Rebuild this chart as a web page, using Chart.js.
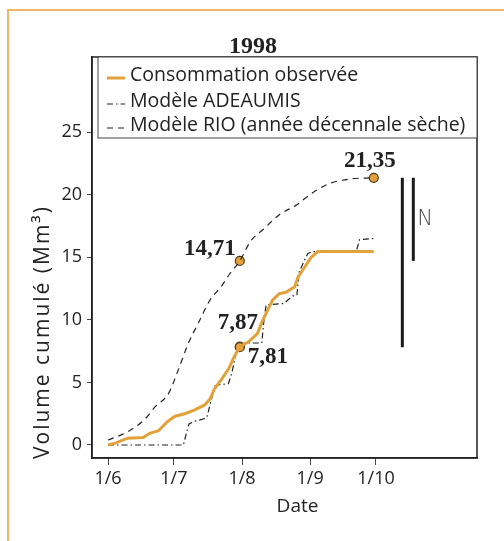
<!DOCTYPE html>
<html>
<head>
<meta charset="utf-8">
<script src="https://cdn.jsdelivr.net/npm/chart.js@4"></script>
<style>
html, body { margin: 0; padding: 0; background: #fff; }
</style>
</head>
<body>
<canvas id="myChart" width="504" height="541"></canvas>
<script>
// days counted from 1 June 1998
const tickDays = [0, 30, 61, 92, 122];
const tickLabels = ['1/6', '1/7', '1/8', '1/9', '1/10'];
const yTicks = [0, 5, 10, 15, 20, 25];

// Consommation observée
const obsDays = [0, 3, 9, 16, 19, 23, 27, 30.5, 35, 39.5, 44, 46.5, 48.5, 51.5, 55, 57, 60, 64, 68, 70.5, 73, 75, 78, 81, 85, 86.5, 89.5, 92.5, 95.5, 121];
const obsVals = [0, 0.13, 0.54, 0.6, 0.93, 1.14, 1.86, 2.3, 2.5, 2.8, 3.2, 3.7, 4.5, 5.2, 6.1, 6.9, 7.87, 8.25, 8.9, 10.0, 10.9, 11.6, 12.1, 12.2, 12.65, 13.4, 14.2, 15.0, 15.45, 15.45];

// Modèle ADEAUMIS
const adeDays = [0, 34.3, 36.5, 37, 39.5, 44.5, 45, 47, 48.5, 50, 54.8, 56.3, 58.5, 60, 62, 70, 71, 72, 80, 84, 86, 87, 89, 91, 93, 113, 114.5, 121];
const adeVals = [0, 0, 1.5, 1.7, 1.9, 2.13, 2.2, 3.6, 4.7, 4.8, 4.9, 5.7, 7.5, 7.81, 8.15, 8.15, 10.0, 11.2, 11.3, 11.9, 12.0, 13.8, 14.6, 15.3, 15.45, 15.45, 16.4, 16.5];

// Modèle RIO (année décennale sèche)
const rioDays = [0, 9, 17, 21.5, 27.5, 32, 36.5, 41, 46.5, 51.5, 55.5, 60, 65, 70.5, 78, 86, 93.5, 101, 110, 121];
const rioVals = [0.4, 1.06, 2.1, 3.06, 4.1, 6.0, 8.1, 9.7, 11.6, 12.65, 13.7, 14.71, 16.3, 17.2, 18.4, 19.2, 20.2, 20.9, 21.25, 21.35];

// marked values
const markDays = [60, 60, 60, 121];
const markVals = [14.71, 7.87, 7.81, 21.35];
const markLabels = ['14,71', '7,87', '7,81', '21,35'];

// difference bars
const barDays = [134, 139];
const barLow = [7.81, 14.71];
const barHigh = [21.35, 21.35];
const barText = ['', 'N'];

const orange = '#E3A13A';
const toXY = (xs, ys) => xs.map((x, i) => ({ x: x, y: ys[i] }));

const extras = {
    id: 'extras',
    beforeDraw(chart) {
        const c = chart.ctx;
        c.save();
        c.fillStyle = '#fff';
        c.fillRect(0, 0, chart.width, chart.height);
        c.strokeStyle = '#EDB865';
        c.lineWidth = 2;
        c.beginPath();
        c.moveTo(8, chart.height);
        c.lineTo(8, 10);
        c.lineTo(chart.width, 10);
        c.stroke();
        c.restore();
    },
    afterDraw(chart) {
        const c = chart.ctx, a = chart.chartArea;
        const xs = chart.scales.x, ys = chart.scales.y;
        c.save();
        c.strokeStyle = '#222';
        c.lineWidth = 1.5;
        c.strokeRect(a.left, a.top, a.right - a.left, a.bottom - a.top);

        // title
        c.fillStyle = '#222';
        c.font = 'bold 24px "Liberation Serif"';
        c.textAlign = 'center';
        c.textBaseline = 'middle';
        c.fillText('1998', chart.width / 2 + 1, 47);

        // legend box
        const lx = a.left + 6, ly = a.top;
        c.lineWidth = 1;
        c.strokeStyle = '#444';
        c.fillStyle = '#fff';
        c.fillRect(lx, ly, a.right - lx, 81);
        c.strokeRect(lx, ly, a.right - lx, 81);
        const rows = [18, 44, 68];
        c.font = '19.5px "Open Sans"';
        c.textAlign = 'left';
        for (let i = 0; i < 3; i++) {
            const ds = chart.data.datasets[i];
            const y = ly + rows[i];
            c.setLineDash(ds.borderDash || []);
            c.strokeStyle = ds.borderColor;
            c.lineWidth = ds.borderWidth;
            c.beginPath();
            c.moveTo(lx + 9, y + 3);
            c.lineTo(lx + 27, y + 3);
            c.stroke();
            c.setLineDash([]);
            c.fillStyle = '#222';
            c.fillText(ds.label, lx + 32, y);
        }

        // value labels
        const place = [['right', -4, -12], ['center', -2, -23], ['left', 8, 10], ['center', -4, -17]];
        c.font = 'bold 23px "Liberation Serif"';
        c.fillStyle = '#222';
        markLabels.forEach((t, i) => {
            const px = xs.getPixelForValue(markDays[i]);
            const py = ys.getPixelForValue(markVals[i]);
            c.textAlign = place[i][0];
            c.fillText(t, px + place[i][1], py + place[i][2]);
        });

        // bar label
        c.font = '200 21px "DejaVu Sans"';
        c.fillStyle = '#444';
        c.textAlign = 'left';
        barText.forEach((t, i) => {
            if (!t) return;
            c.fillText(t, xs.getPixelForValue(barDays[i]) + 4, ys.getPixelForValue((barLow[i] + barHigh[i]) / 2));
        });

        // axis titles
        c.fillStyle = '#222';
        c.font = '19px "Open Sans"';
        c.textAlign = 'center';
        c.fillText('Date', (a.left + a.right) / 2 + 13, 507);

        c.translate(43, a.bottom + 1);
        c.rotate(-Math.PI / 2);
        c.font = '21px "Open Sans"';
        c.letterSpacing = '2px';
        c.textAlign = 'left';
        c.fillText('Volume cumulé (Mm³)', 0, 0);
        c.restore();
    }
};

const datasets = [
    {
        label: 'Consommation observée',
        data: toXY(obsDays, obsVals),
        borderColor: orange,
        borderWidth: 3,
        pointRadius: 0
    },
    {
        label: 'Modèle ADEAUMIS',
        data: toXY(adeDays, adeVals),
        borderColor: '#222',
        borderWidth: 1.2,
        borderDash: [6, 3, 1.5, 3],
        pointRadius: 0
    },
    {
        label: 'Modèle RIO (année décennale sèche)',
        data: toXY(rioDays, rioVals),
        borderColor: '#222',
        borderWidth: 1.2,
        borderDash: [6, 5],
        cubicInterpolationMode: 'monotone',
        pointRadius: 0
    }
];
barDays.forEach((d, i) => {
    datasets.push({
        label: 'bar' + i,
        data: [{ x: d, y: barLow[i] }, { x: d, y: barHigh[i] }],
        borderColor: '#1a1a1a',
        borderWidth: 3,
        pointRadius: 0
    });
});
datasets.push({
    label: 'marks',
    data: toXY(markDays, markVals),
    showLine: false,
    pointRadius: 4.5,
    pointBackgroundColor: orange,
    pointBorderColor: '#4a3a1c',
    pointBorderWidth: 1.2
});

const canvas = document.getElementById('myChart');
const ctx = canvas.getContext('2d');

var myChart = new Chart(ctx, {
    type: 'line',
    data: { datasets: datasets },
    plugins: [extras],
    options: {
        responsive: false,
        animation: false,
        layout: { padding: { left: 0, right: 27, top: 57, bottom: 0 } },
        plugins: {
            legend: { display: false },
            tooltip: { enabled: false },
            title: { display: false }
        },
        scales: {
            x: {
                type: 'linear',
                min: -7.3,
                max: 168,
                afterBuildTicks: s => { s.ticks = tickDays.map(v => ({ value: v })); },
                afterFit: s => { s.height = 83; },
                ticks: {
                    autoSkip: false,
                    maxRotation: 0,
                    padding: 3,
                    color: '#222',
                    font: { family: 'Open Sans', size: 18 },
                    callback: (v) => tickLabels[tickDays.indexOf(v)]
                },
                grid: { drawOnChartArea: false, tickLength: 7, color: '#444' },
                border: { color: '#222', width: 1.5 }
            },
            y: {
                min: -1.04,
                max: 31,
                afterBuildTicks: s => { s.ticks = yTicks.map(v => ({ value: v })); },
                afterFit: s => { s.width = 92; },
                ticks: {
                    padding: 5,
                    color: '#222',
                    font: { family: 'Open Sans', size: 18 }
                },
                grid: { drawOnChartArea: false, tickLength: 5, color: '#444' },
                border: { color: '#222', width: 1.5 }
            }
        }
    }
});
</script>
</body>
</html>
